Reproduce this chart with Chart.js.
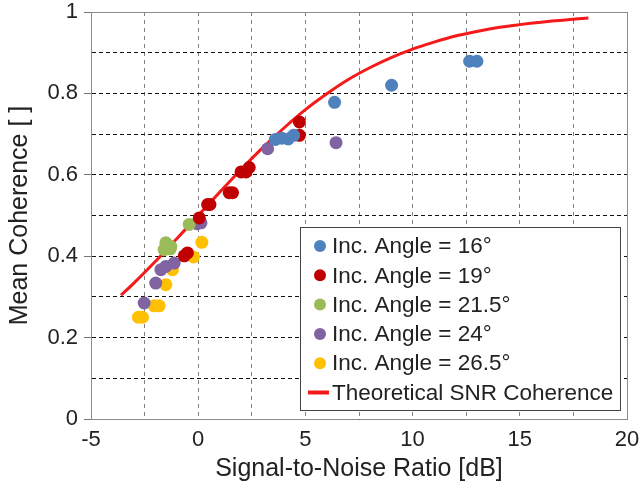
<!DOCTYPE html>
<html>
<head>
<meta charset="utf-8">
<script src="https://cdn.jsdelivr.net/npm/chart.js@4.4.0/dist/chart.umd.min.js"></script>
<style>
  html, body { margin: 0; padding: 0; background: #fff; }
</style>
</head>
<body>
<canvas id="chart" width="641" height="492"></canvas>
<script>
// SNR [dB] and mean coherence for each incidence angle
const snr16 = [3.6, 3.9, 4.2, 4.45, 6.36, 9.02, 12.66, 13.0];
const coh16 = [0.687, 0.69, 0.688, 0.697, 0.778, 0.82, 0.879, 0.879];

const snr19 = [4.72, 4.72, 2.38, 2.23, 2.0, 1.6, 1.45, 0.55, 0.44, 0.05, -0.5, -0.65];
const coh19 = [0.73, 0.697, 0.618, 0.607, 0.607, 0.556, 0.556, 0.527, 0.527, 0.494, 0.408, 0.401];

const snr215 = [-0.42, -1.51, -1.28, -1.59, -1.3];
const coh215 = [0.478, 0.433, 0.424, 0.416, 0.418];

const snr24 = [0.13, -0.05, -1.12, -1.51, -1.74, -1.98, -2.52, 3.24, 6.43];
const coh24 = [0.482, 0.48, 0.383, 0.375, 0.367, 0.334, 0.285, 0.664, 0.679];

const snr265 = [0.17, -0.22, -1.2, -1.51, -1.82, -2.06, -2.6, -2.79];
const coh265 = [0.434, 0.398, 0.367, 0.33, 0.278, 0.278, 0.25, 0.25];

// theoretical curve
const snrTheory = [-3.6, -3, -2, -1, 0, 1, 2, 3, 4, 5, 6, 7, 8, 9, 10, 11, 12, 13, 14, 15, 16, 17, 18.2];
const cohTheory = [0.304, 0.334, 0.387, 0.443, 0.5, 0.557, 0.613, 0.666, 0.715, 0.76, 0.799, 0.834,
	0.863, 0.888, 0.909, 0.926, 0.941, 0.952, 0.962, 0.969, 0.975, 0.98, 0.985];

const seriesLabels = ["Inc. Angle = 16°", "Inc. Angle = 19°", "Inc. Angle = 21.5°",
	"Inc. Angle = 24°", "Inc. Angle = 26.5°", "Theoretical SNR Coherence"];
const seriesColors = ["#4f81bd", "#c00000", "#9bbb59", "#8064a2", "#ffc000", "#f51a1a"];

const FONT = '"Liberation Sans", Arial, sans-serif';

function toPoints(xs, ys) {
	return xs.map((x, i) => ({ x: x, y: ys[i] }));
}

function scatterSet(idx, xs, ys) {
	return {
		label: seriesLabels[idx],
		data: toPoints(xs, ys),
		backgroundColor: seriesColors[idx],
		borderWidth: 0,
		pointRadius: 6.5,
		showLine: false,
	};
}

// solid frame on top/right + legend box inside the plot
const framePlugin = {
	id: "frame",
	afterDraw(chart) {
		const ctx = chart.ctx;
		const a = chart.chartArea;
		ctx.save();
		ctx.strokeStyle = "#8c8c8c";
		ctx.lineWidth = 1;
		ctx.beginPath();
		ctx.moveTo(a.left, a.top + 0.5);
		ctx.lineTo(a.right + 0.5, a.top + 0.5);
		ctx.lineTo(a.right + 0.5, a.bottom);
		ctx.stroke();

		// legend
		const box = { x: 300, y: 227, w: 320, h: 183 };
		ctx.fillStyle = "#fff";
		ctx.fillRect(box.x, box.y, box.w, box.h);
		ctx.strokeStyle = "#444";
		ctx.strokeRect(box.x + 0.5, box.y + 0.5, box.w, box.h);
		ctx.font = "22.5px " + FONT;
		ctx.textBaseline = "middle";
		chart.data.datasets.forEach((ds, i) => {
			const y = 246 + i * 29.3;
			if (ds.showLine) {
				ctx.strokeStyle = ds.borderColor;
				ctx.lineWidth = 4;
				ctx.beginPath();
				ctx.moveTo(308, y);
				ctx.lineTo(329, y);
				ctx.stroke();
			} else {
				ctx.fillStyle = ds.backgroundColor;
				ctx.beginPath();
				ctx.arc(320, y, 6, 0, Math.PI * 2);
				ctx.fill();
			}
			ctx.fillStyle = "#222";
			ctx.fillText(ds.label, 332, y + 1);
		});
		ctx.restore();
	},
};

const ctx = document.getElementById("chart").getContext("2d");
new Chart(ctx, {
	type: "scatter",
	data: {
		datasets: [
			scatterSet(0, snr16, coh16),
			scatterSet(1, snr19, coh19),
			scatterSet(2, snr215, coh215),
			scatterSet(3, snr24, coh24),
			scatterSet(4, snr265, coh265),
			{
				label: seriesLabels[5],
				data: toPoints(snrTheory, cohTheory),
				borderColor: seriesColors[5],
				backgroundColor: seriesColors[5],
				borderWidth: 3,
				pointRadius: 0,
				showLine: true,
				tension: 0.3,
			},
		],
	},
	options: {
		responsive: false,
		animation: false,
		layout: { padding: { left: 0, right: 14, top: 12, bottom: 0 } },
		plugins: {
			legend: { display: false },
			tooltip: { enabled: false },
		},
		scales: {
			x: {
				type: "linear",
				min: -5,
				max: 20,
				afterFit: (scale) => {
					scale.height = 73;
					scale.paddingLeft = 0;
					scale.paddingRight = 0;
				},
				ticks: {
					stepSize: 2.5,
					autoSkip: false,
					maxRotation: 0,
					padding: 8,
					color: "#222",
					font: { family: FONT, size: 22 },
					callback: (v) => (v % 5 === 0 ? String(v) : ""),
				},
				grid: {
					color: "#808080",
					lineWidth: 1,
					drawTicks: false,
				},
				border: { color: "#8c8c8c", width: 1, dash: [4, 4] },
				title: {
					display: true,
					text: "Signal-to-Noise Ratio [dB]",
					color: "#222",
					font: { family: FONT, size: 25 },
					padding: { top: 0, bottom: 8 },
				},
			},
			y: {
				min: 0,
				max: 1,
				afterFit: (scale) => {
					scale.width = 91;
					scale.paddingTop = 0;
					scale.paddingBottom = 0;
				},
				ticks: {
					stepSize: 0.1,
					autoSkip: false,
					padding: 6,
					color: "#222",
					font: { family: FONT, size: 22 },
					callback: (v) => (Math.round(v * 10) % 2 === 0 ? String(Math.round(v * 10) / 10) : ""),
				},
				grid: {
					color: "#111",
					lineWidth: 1,
					tickLength: 7,
					tickColor: (c) => (c.tick && Math.round(c.tick.value * 10) % 2 === 0 ? "#777" : "rgba(0,0,0,0)"),
				},
				border: { color: "#8c8c8c", width: 1, dash: [4, 3] },
				title: {
					display: true,
					text: "Mean Coherence [ ]",
					color: "#222",
					font: { family: FONT, size: 25 },
					padding: { top: 5, bottom: 0 },
				},
			},
		},
	},
	plugins: [framePlugin],
});
</script>
</body>
</html>
